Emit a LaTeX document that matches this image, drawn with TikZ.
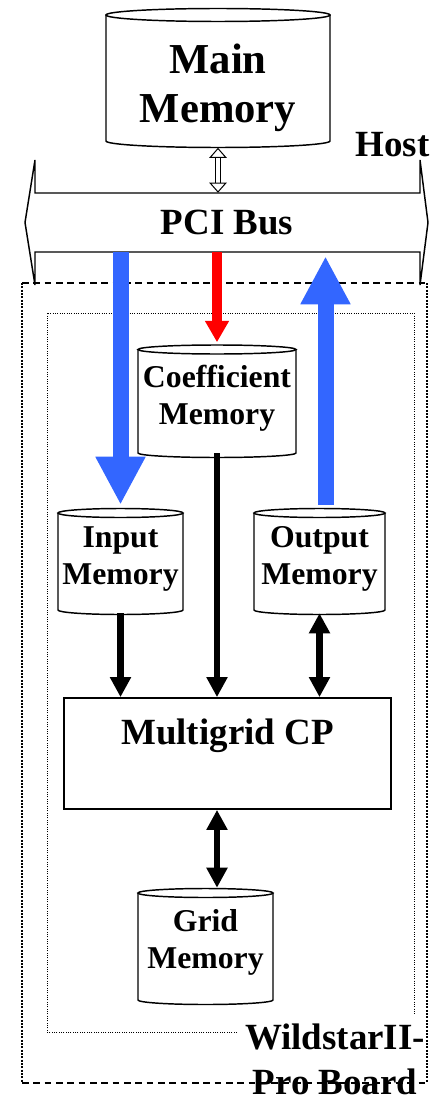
\documentclass[tikz,border=0pt]{standalone}
\usepackage{fontspec}
\setmainfont{Liberation Serif}
\usetikzlibrary{arrows.meta,calc}

\definecolor{busblue}{HTML}{3366FF}
\definecolor{coefred}{HTML}{FF0000}

\newcommand{\bigfont}{\fontsize{32}{36.75}\selectfont\bfseries}
\newcommand{\midfont}{\fontsize{27.7}{33.75}\selectfont\bfseries}
\newcommand{\smallfont}{\fontsize{23.8}{27.75}\selectfont\bfseries}

\tikzset{
  canline/.style={line width=1.1pt},
  can/.style={inner sep=0pt, align=center, font=\smallfont},
  fatarrow/.style={draw=busblue, line width=12pt, -{Triangle[width=35pt,length=36pt]}},
  redarrow/.style={draw=coefred, line width=7pt, -{Triangle[width=17pt,length=16pt]}},
  blk/.style={line width=5pt, >={Triangle[width=15pt,length=15pt]}},
  hollow/.style={double, line width=0.75pt, double distance=3.6pt,
    {Triangle[open,width=13pt,length=7.5pt,line width=0.75pt]}-{Triangle[open,width=13pt,length=7.5pt,line width=0.75pt]}},
  boardedge/.style={line width=1.2pt, dash pattern=on 5pt off 3.5pt},
  boardside/.style={line width=1.5pt, dash pattern=on 1.5pt off 1pt},
  chipedge/.style={line width=0.75pt, dash pattern=on 0.75pt off 1pt}
}

\begin{document}
\begin{tikzpicture}[x=0.75pt,y=0.75pt,yscale=-1,xscale=1]
\useasboundingbox (0,0) rectangle (429,1098);

%Shape: Board outline
\draw[boardedge] (22,283) -- (427,283) ;
\draw[boardedge] (22,1083) -- (427,1083) ;
\draw[boardside] (22,283) -- (22,1083) ;
\draw[boardside] (427,283) -- (427,1083) ;
%Shape: Chip outline
\draw[chipedge] (237,1032) -- (47,1032) -- (47,313) -- (414,313) -- (414,1015) ;

%Shape: Bus
\draw[line width=1.1pt] (35,160) -- (35,193) -- (420,193) -- (420,160) -- (428,222.5) -- (420,285) -- (420,252) -- (35,252) -- (35,285) -- (25,222.5) -- cycle ;

%Shape: Can (main)
\draw[canline] (218,15) ellipse [x radius=112, y radius=6.5] ;
\draw[canline] (106,15) -- (106,141) arc [start angle=180, end angle=0, x radius=112, y radius=6.5] -- (330,15) ;
%Shape: Can (coefficient)
\draw[canline] (217,349.5) ellipse [x radius=79, y radius=4.5] ;
\draw[canline] (138,349.5) -- (138,453) arc [start angle=180, end angle=0, x radius=79, y radius=4.5] -- (296,349.5) ;
%Shape: Can (input)
\draw[canline] (120.5,513) ellipse [x radius=62.5, y radius=4.5] ;
\draw[canline] (58,513) -- (58,610) arc [start angle=180, end angle=0, x radius=62.5, y radius=4.5] -- (183,513) ;
%Shape: Can (output)
\draw[canline] (319.5,513) ellipse [x radius=65.5, y radius=4.5] ;
\draw[canline] (254,513) -- (254,610) arc [start angle=180, end angle=0, x radius=65.5, y radius=4.5] -- (385,513) ;
%Shape: Can (grid)
\draw[canline] (205.5,893) ellipse [x radius=67.5, y radius=4.5] ;
\draw[canline] (138,893) -- (138,1000) arc [start angle=180, end angle=0, x radius=67.5, y radius=4.5] -- (273,893) ;

% Text Node
\node (mainmem) [can, font=\bigfont, minimum width=168pt, minimum height=90pt] at (218,87.5) {Main\\Memory};
\node (bus) [inner sep=0pt, font=\midfont, minimum width=288pt, minimum height=44.25pt] at (227,222.5) {PCI Bus};
\node (host) [inner sep=0pt, font=\midfont] at (392.5,144.5) {Host};
\node (coefmem) [can, minimum width=118.5pt, minimum height=82.9pt] at (217,397.75) {Coefficient\\Memory};
\node (inmem) [can, minimum width=93.75pt, minimum height=81pt] at (120.5,559) {Input\\Memory};
\node (outmem) [can, minimum width=98.25pt, minimum height=81pt] at (319.5,559) {Output\\Memory};
\node (mgcp) [draw, line width=1.3pt, inner sep=0pt, font=\midfont, text depth=32pt, minimum width=245.25pt, minimum height=83.25pt] at (227.5,753.5) {Multigrid CP};
\node (gridmem) [can, minimum width=101.25pt, minimum height=81pt] at (205.5,942) {Grid\\Memory};
\node (board) [inner sep=0pt, align=center, font=\midfont] at (335,1059) {WildstarII-\\Pro Board};

%Connectors
\draw[hollow] (mainmem.south) -- (mainmem.south |- bus.north) ;
\draw[fatarrow] (bus.south -| inmem.north) -- (inmem.north) ;
\draw[redarrow] (bus.south -| coefmem.north) -- (coefmem.north) ;
\draw[fatarrow, shorten >=3pt] ($(outmem.north)+(6,0)$) -- ($(outmem.north |- bus.south)+(6,0)$) ;
\draw[blk, ->] (inmem.south) -- (inmem.south |- mgcp.north) ;
\draw[blk, ->] (coefmem.south) -- (coefmem.south |- mgcp.north) ;
\draw[blk, <->] (outmem.south) -- (outmem.south |- mgcp.north) ;
\draw[blk, <->] (mgcp.south -| coefmem.south) -- (gridmem.north -| coefmem.south) ;
\end{tikzpicture}
\end{document}
